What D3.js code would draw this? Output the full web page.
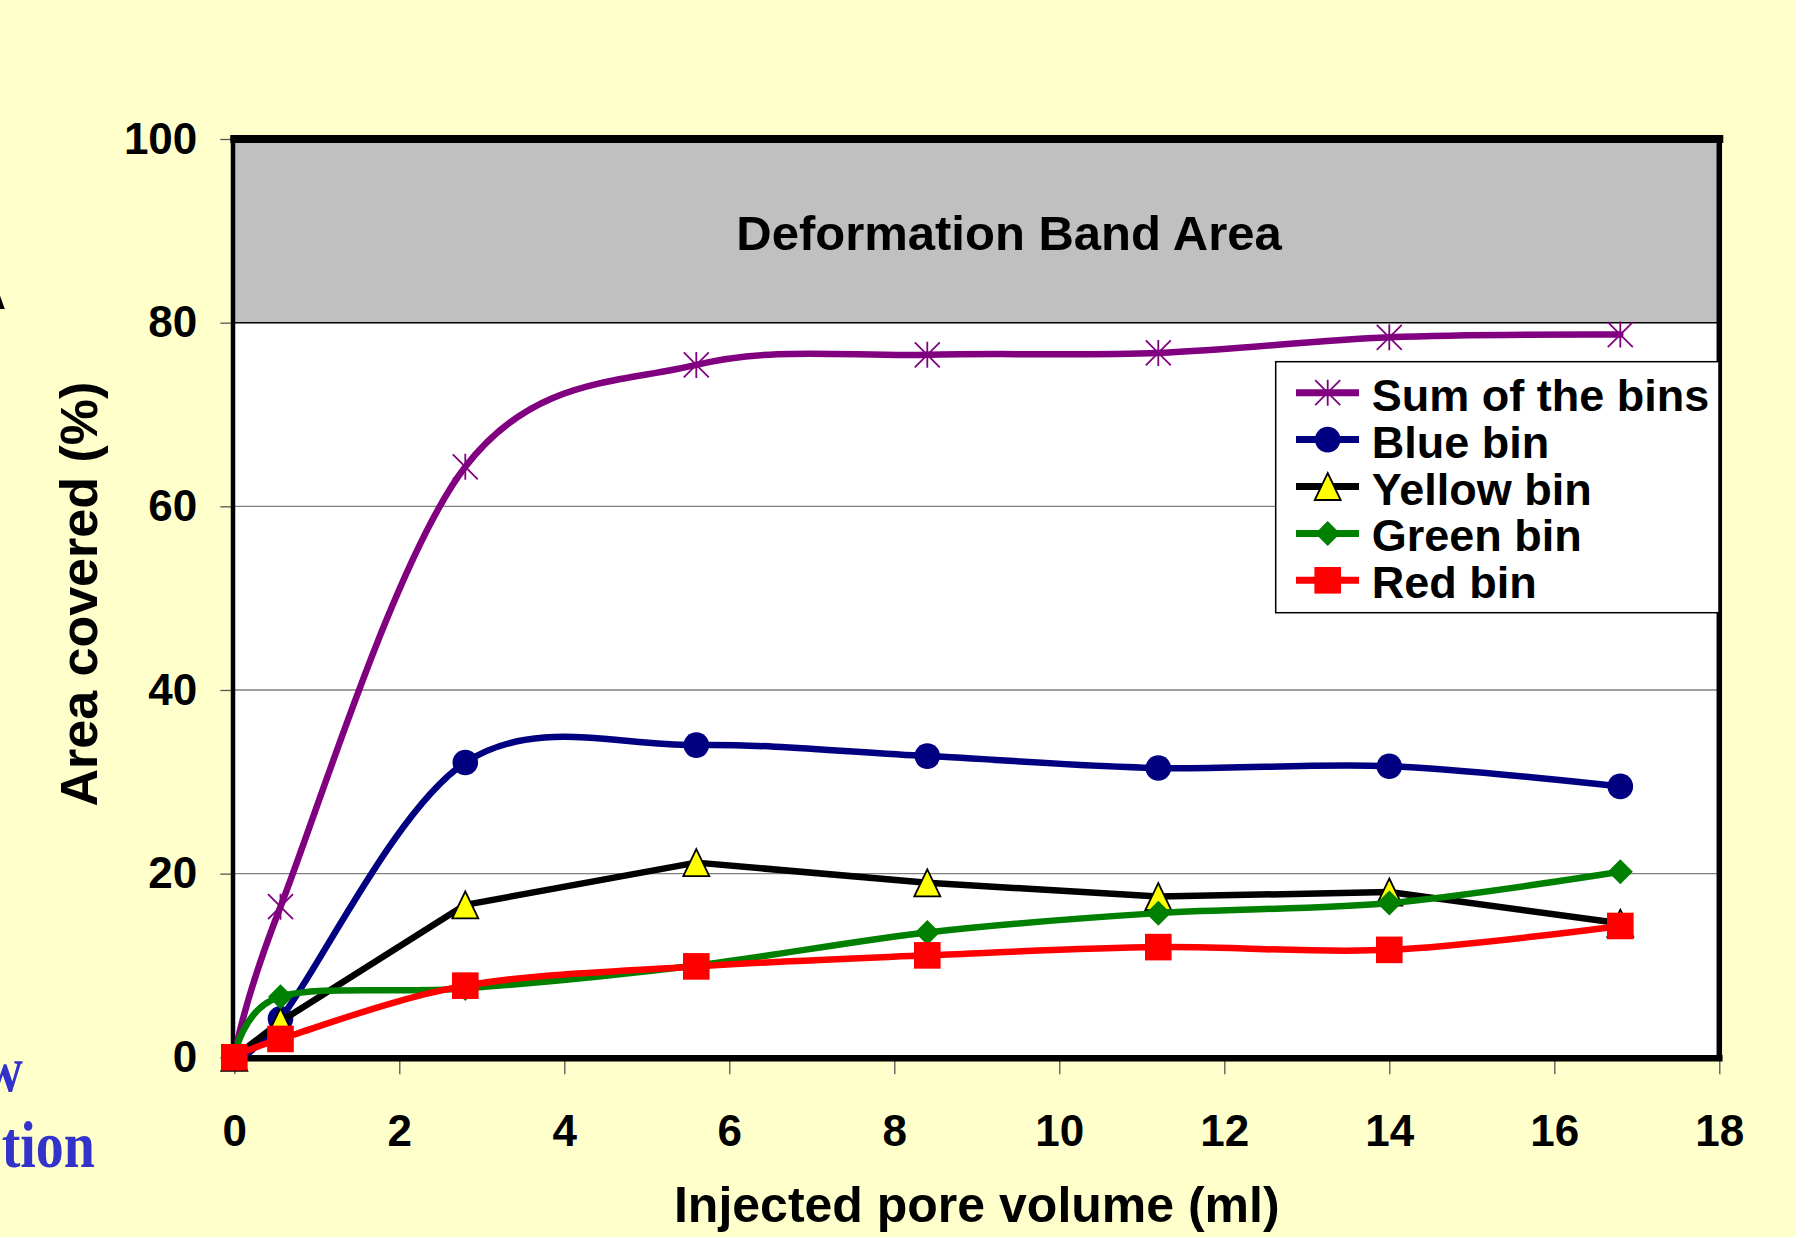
<!DOCTYPE html>
<html>
<head>
<meta charset="utf-8">
<script src="https://cdn.jsdelivr.net/npm/d3@7"></script>
<style>
  html, body { margin: 0; padding: 0; background: #FFFFCC; }
  svg { display: block; }
  text { font-family: "Liberation Sans", Arial, sans-serif; font-weight: bold; }
</style>
</head>
<body>
<svg id="chart" width="1796" height="1237"></svg>
<script>
// Injected pore volume (ml) at each image capture
const volume = [0, 0.56, 2.8, 5.6, 8.4, 11.2, 14.0, 16.8];

// Area covered (%) per colour bin
const sumBins   = [0, 16.4, 64.3, 75.4, 76.5, 76.7, 78.4, 78.7];
const blueBin   = [0, 4.2, 32.1, 34.0, 32.8, 31.5, 31.7, 29.5];
const yellowBin = [0, 3.9, 16.6, 21.2, 19.0, 17.5, 18.0, 14.6];
const greenBin  = [0, 6.6, 7.5, 10.0, 13.6, 15.7, 16.8, 20.2];
const redBin    = [0, 2.0, 7.8, 9.9, 11.1, 12.0, 11.7, 14.3];

const seriesNames = ["Sum of the bins", "Blue bin", "Yellow bin", "Green bin", "Red bin"];

const xTicks = [0, 2, 4, 6, 8, 10, 12, 14, 16, 18];
const yTicks = [0, 20, 40, 60, 80, 100];
const bandRange = [80, 100];
const bandLabel = "Deformation Band Area";
const xTitle = "Injected pore volume (ml)";
const yTitle = "Area covered (%)";

// Drawing styles for each series
const styles = [
  { color: "#800080", marker: "asterisk", smooth: true },
  { color: "#000080", marker: "circle",   smooth: true },
  { color: "#000000", marker: "triangle", smooth: false },
  { color: "#008000", marker: "diamond",  smooth: true },
  { color: "#FF0000", marker: "square",   smooth: true }
];
const seriesValues = [sumBins, blueBin, yellowBin, greenBin, redBin];
const series = seriesNames.map((name, i) => ({
  name,
  points: volume.map((v, j) => ({ x: v, y: seriesValues[i][j] })),
  ...styles[i]
}));

const svg = d3.select("#chart");

const x = d3.scaleLinear().domain([0, 18]).range([234.3, 1719.3]);
const y = d3.scaleLinear().domain([0, 100]).range([1057.3, 139]);

// page background
svg.append("rect").attr("width", 1796).attr("height", 1237).attr("fill", "#FFFFCC");

// fragments of the surrounding slide text
svg.append("text").attr("x", 6).attr("y", 309).attr("text-anchor", "end")
  .attr("font-size", 50).attr("fill", "#000").text("A");
const slideText = svg.append("g")
  .style("font-family", "'Liberation Serif', 'Times New Roman', serif")
  .attr("fill", "#3333CC");
slideText.append("text").attr("text-anchor", "end")
  .attr("transform", "translate(23,1091) scale(1,1.18)")
  .style("font-family", "'Liberation Serif', serif")
  .attr("font-size", 56).text("w");
slideText.append("text").attr("text-anchor", "end")
  .attr("transform", "translate(95,1167) scale(1,1.18)")
  .style("font-family", "'Liberation Serif', serif")
  .attr("font-size", 56).text("tion");

// plot area
svg.append("rect")
  .attr("x", x(0)).attr("y", y(100))
  .attr("width", x(18) - x(0)).attr("height", y(0) - y(100))
  .attr("fill", "#FFFFFF");

// deformation band
svg.append("rect")
  .attr("x", x(0)).attr("y", y(bandRange[1]))
  .attr("width", x(18) - x(0)).attr("height", y(bandRange[0]) - y(bandRange[1]))
  .attr("fill", "#C0C0C0");

// horizontal gridlines
svg.append("g").selectAll("line")
  .data(yTicks.filter(t => t > 0 && t < bandRange[0]))
  .join("line")
  .attr("x1", x(0)).attr("x2", x(18))
  .attr("y1", d => y(d)).attr("y2", d => y(d))
  .attr("stroke", "#808080").attr("stroke-width", 1.3);

svg.append("line")
  .attr("x1", x(0)).attr("x2", x(18))
  .attr("y1", y(bandRange[0])).attr("y2", y(bandRange[0]))
  .attr("stroke", "#000").attr("stroke-width", 1.5);

svg.append("text")
  .attr("x", 1009).attr("y", 250)
  .attr("text-anchor", "middle").attr("font-size", 49)
  .attr("fill", "#000").text(bandLabel);

// axes (ticks and labels)
const yAxis = svg.append("g")
  .attr("transform", `translate(${x(0)},0)`)
  .call(d3.axisLeft(y).tickValues(yTicks).tickSize(14).tickPadding(23).tickFormat(d3.format("d")));
const xAxis = svg.append("g")
  .attr("transform", `translate(0,${y(0)})`)
  .call(d3.axisBottom(x).tickValues(xTicks).tickSize(17).tickFormat(d3.format("d")));

[yAxis, xAxis].forEach(g => {
  g.select(".domain").remove();
  g.selectAll(".tick line").attr("stroke", "#555").attr("stroke-width", 1.3);
  g.selectAll(".tick text")
    .attr("fill", "#000")
    .style("font-family", "'Liberation Sans', Arial, sans-serif")
    .style("font-weight", "bold")
    .attr("font-size", 44);
});
xAxis.selectAll(".tick text").attr("y", 88.7).attr("dy", 0);

// frame round the plot area
const frame = svg.append("g").attr("stroke", "#000").attr("stroke-linecap", "square");
frame.append("line").attr("x1", x(0)).attr("x2", x(18)).attr("y1", y(100)).attr("y2", y(100)).attr("stroke-width", 8);
frame.append("line").attr("x1", x(0) - 1.3).attr("x2", x(0) - 1.3).attr("y1", y(100)).attr("y2", y(0)).attr("stroke-width", 4.5);
frame.append("line").attr("x1", x(18)).attr("x2", x(18)).attr("y1", y(100)).attr("y2", y(0)).attr("stroke-width", 5.5);
frame.append("line").attr("x1", x(0)).attr("x2", x(18)).attr("y1", y(0) + 1).attr("y2", y(0) + 1).attr("stroke-width", 6.5);

// axis titles
svg.append("text")
  .attr("x", (x(0) + x(18)) / 2).attr("y", 1222)
  .attr("text-anchor", "middle").attr("font-size", 50)
  .attr("fill", "#000").text(xTitle);
svg.append("text")
  .attr("transform", `translate(96.7,${(y(0) + y(100)) / 2 - 4}) rotate(-90)`)
  .attr("text-anchor", "middle").attr("font-size", 52)
  .attr("fill", "#000").text(yTitle);

// markers
function drawMarker(g, type, color, cx, cy) {
  const m = g.append("g").attr("transform", `translate(${cx},${cy})`);
  if (type === "asterisk") {
    m.append("path")
      .attr("d", "M0,-13V13M-12.5,-12.5L12.5,12.5M-12.5,12.5L12.5,-12.5")
      .attr("stroke", color).attr("stroke-width", 1.8).attr("fill", "none");
  } else if (type === "circle") {
    m.append("circle").attr("r", 12.8).attr("fill", color);
  } else if (type === "triangle") {
    m.append("path").attr("d", "M0,-13.5L13,13.5L-13,13.5Z")
      .attr("fill", "#FFFF00").attr("stroke", "#000").attr("stroke-width", 1.8)
      .attr("stroke-linejoin", "miter");
  } else if (type === "diamond") {
    m.append("path").attr("d", "M0,-12.5L12.5,0L0,12.5L-12.5,0Z").attr("fill", color);
  } else if (type === "square") {
    m.append("rect").attr("x", -13.3).attr("y", -13.3).attr("width", 26.6).attr("height", 26.6).attr("fill", color);
  }
}

// series lines and markers
const plot = svg.append("g");
series.forEach(s => {
  const line = d3.line()
    .x(d => x(d.x)).y(d => y(d.y))
    .curve(s.smooth ? d3.curveCatmullRom.alpha(0) : d3.curveLinear);
  const g = plot.append("g");
  g.append("path").attr("d", line(s.points))
    .attr("fill", "none").attr("stroke", s.color)
    .attr("stroke-width", 6.5).attr("stroke-linejoin", "round").attr("stroke-linecap", "round");
  s.points.forEach(p => drawMarker(g, s.marker, s.color, x(p.x), y(p.y)));
});

// legend
const legend = svg.append("g");
legend.append("rect")
  .attr("x", 1275.7).attr("y", 361.7).attr("width", 1719 - 1275.7).attr("height", 612.7 - 361.7)
  .attr("fill", "#FFFFFF").attr("stroke", "#000").attr("stroke-width", 1.5);
series.forEach((s, i) => {
  const cy = 392.7 + i * 46.9;
  legend.append("line").attr("x1", 1296).attr("x2", 1359).attr("y1", cy).attr("y2", cy)
    .attr("stroke", s.color).attr("stroke-width", 7);
  drawMarker(legend, s.marker, s.color, 1327.7, cy);
  legend.append("text").attr("x", 1371.7).attr("y", cy + 18)
    .attr("font-size", 45).attr("fill", "#000").text(s.name);
});
</script>
</body>
</html>
